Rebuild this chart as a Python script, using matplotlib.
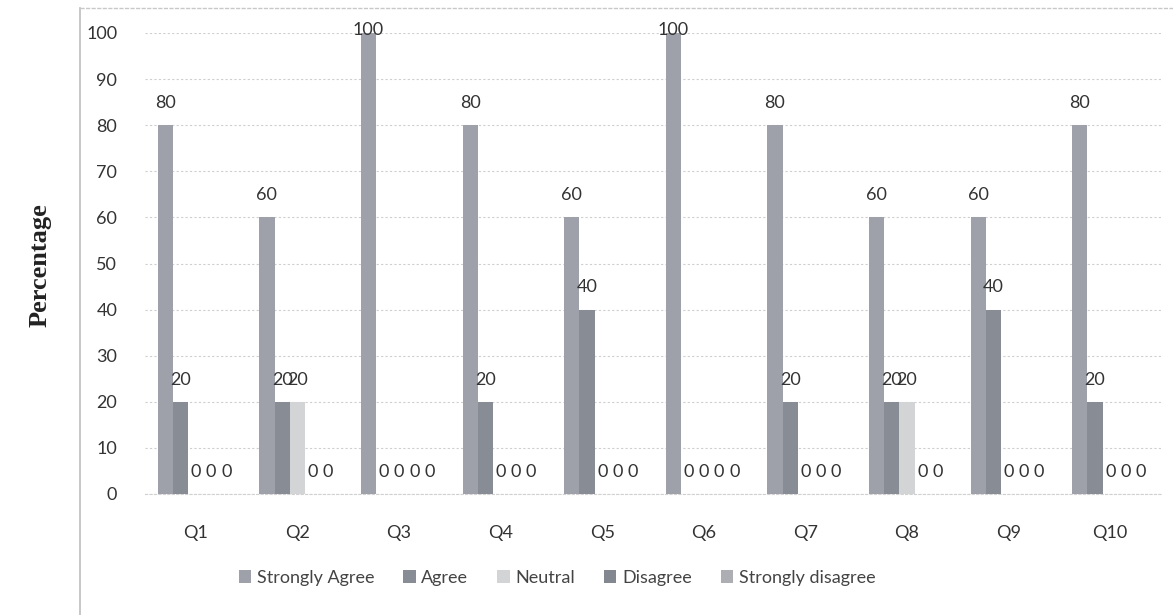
import matplotlib
matplotlib.use("Agg")
import matplotlib.pyplot as plt
import numpy as np
from matplotlib.lines import Line2D

categories = ["Q1", "Q2", "Q3", "Q4", "Q5", "Q6", "Q7", "Q8", "Q9", "Q10"]
series_names = ["Strongly Agree", "Agree", "Neutral", "Disagree", "Strongly disagree"]
strongly_agree = [80, 60, 100, 80, 60, 100, 80, 60, 60, 80]
agree = [20, 20, 0, 20, 40, 0, 20, 20, 40, 20]
neutral = [0, 20, 0, 0, 0, 0, 0, 20, 0, 0]
disagree = [0, 0, 0, 0, 0, 0, 0, 0, 0, 0]
strongly_disagree = [0, 0, 0, 0, 0, 0, 0, 0, 0, 0]
y_ticks = [0, 10, 20, 30, 40, 50, 60, 70, 80, 90, 100]

series = [strongly_agree, agree, neutral, disagree, strongly_disagree]
colors = ["#9ea1aa", "#888c95", "#d3d4d6", "#838790", "#acaeb3"]

plt.rcParams["font.family"] = ["Lato", "DejaVu Sans"]

fig = plt.figure(figsize=(11.73, 6.15), dpi=100)
ax = fig.add_axes([145 / 1173, 1 - 494 / 615, (1161 - 145) / 1173, (494 - 33) / 615])

n = len(series)
x = np.arange(len(categories))
bw = 0.15
for i, (vals, col, name) in enumerate(zip(series, colors, series_names)):
    pos = x + (i - (n - 1) / 2) * bw
    ax.bar(pos, vals, width=bw, color=col, label=name, zorder=3, linewidth=0)
    for px, v in zip(pos, vals):
        off = 2 if v >= 100 else 16
        ax.annotate(str(v), (px, v), xytext=(0, off), textcoords="offset points",
                    ha="center", va="center", fontsize=13, color="#333333", zorder=4)

ax.set_xlim(-0.5, len(categories) - 0.5)
ax.set_ylim(0, 100)
ax.set_yticks(y_ticks)
ax.set_yticklabels([str(t) for t in y_ticks], fontsize=13, color="#333333")
ax.set_xticks(x)
ax.set_xticklabels(categories, fontsize=13, color="#333333")
ax.tick_params(axis="both", length=0)
ax.tick_params(axis="y", pad=20)
ax.tick_params(axis="x", pad=22)
ax.yaxis.grid(True, color="#cfcfcf", linestyle=(0, (2, 2)), linewidth=0.8, zorder=0)
for s in ["left", "right", "top"]:
    ax.spines[s].set_visible(False)
ax.spines["bottom"].set_color("#d0d0d0")
ax.spines["bottom"].set_linestyle((0, (2, 2)))

fig.text(40 / 1173, 1 - 265 / 615, "Percentage", rotation=90, ha="center", va="center",
         fontsize=19, fontweight="bold", family="Liberation Serif", color="#222222")

handles, labels = ax.get_legend_handles_labels()
fig.legend(handles, labels, loc="center", bbox_to_anchor=(557 / 1173, 1 - 578 / 615),
           ncol=5, frameon=False, fontsize=13, handlelength=0.7, handleheight=0.7,
           handletextpad=0.3, columnspacing=1.6, labelcolor="#444444")

# chart border
fig.add_artist(Line2D([80 / 1173, 80 / 1173], [0, 1 - 8 / 615], color="#bdbdbd", lw=1.2,
                      transform=fig.transFigure))
fig.add_artist(Line2D([80 / 1173, 1], [1 - 8 / 615, 1 - 8 / 615], color="#c8c8c8", lw=1,
                      linestyle=(0, (3, 1)), transform=fig.transFigure))

fig.savefig("out.png", dpi=100, facecolor="white")
